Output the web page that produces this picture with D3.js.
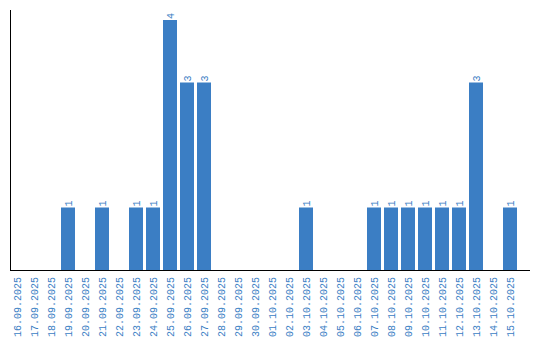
<!DOCTYPE html>
<html>
<head>
<meta charset="utf-8">
<script src="https://cdn.jsdelivr.net/npm/d3@7"></script>
<style>
  body { margin: 0; background: #fff; }
  text { font-family: "Liberation Mono", "Courier New", monospace; font-size: 10px; fill: #3b7ec4; }
</style>
</head>
<body>
<script>
"use strict";

var dates = ["16.09.2025", "17.09.2025", "18.09.2025", "19.09.2025", "20.09.2025", "21.09.2025",
  "22.09.2025", "23.09.2025", "24.09.2025", "25.09.2025", "26.09.2025", "27.09.2025",
  "28.09.2025", "29.09.2025", "30.09.2025", "01.10.2025", "02.10.2025", "03.10.2025",
  "04.10.2025", "05.10.2025", "06.10.2025", "07.10.2025", "08.10.2025", "09.10.2025",
  "10.10.2025", "11.10.2025", "12.10.2025", "13.10.2025", "14.10.2025", "15.10.2025"];
var counts = [0, 0, 0, 1, 0, 1, 0, 1, 1, 4, 3, 3, 0, 0, 0, 0, 0, 1, 0, 0, 0, 1, 1, 1, 1, 1, 1, 3, 0, 1];

var width = 540;
var height = 340;
var padLeft = 10;
var padTop = 10;
var axisY = 270;
var axisRight = 530;

var svg = d3.select("body").append("svg").attr("width", width).attr("height", height);

var x = d3.scaleBand().domain(dates).range([padLeft, 517]).paddingInner(3 / 17).paddingOuter(0);
var y = d3.scaleLinear().domain([0, 4]).range([axisY, 20]);

var rows = dates.map(function (d, i) { return { date: d, value: counts[i] }; });
var filled = rows.filter(function (r) { return r.value > 0; });

// bars
svg.selectAll("rect.bar").data(filled).enter().append("rect")
  .attr("class", "bar")
  .attr("x", function (d) { return x(d.date); })
  .attr("y", function (d) { return y(d.value); })
  .attr("width", x.bandwidth())
  .attr("height", function (d) { return y(0) - y(d.value); })
  .attr("fill", "#3b7ec4");

// value labels
svg.selectAll("text.val").data(filled).enter().append("text")
  .attr("class", "val")
  .attr("transform", function (d) {
    return "translate(" + (x(d.date) + x.bandwidth() / 2) + "," + (y(d.value) - 1) + ") rotate(-90)";
  })
  .attr("dy", "0.35em")
  .attr("text-anchor", "start")
  .text(function (d) { return d.value; });

// date labels
svg.selectAll("text.tick").data(dates).enter().append("text")
  .attr("class", "tick")
  .attr("transform", function (d) {
    return "translate(" + (x(d) + x.bandwidth() / 2) + "," + (axisY + 7) + ") rotate(-90)";
  })
  .attr("dy", "0.35em")
  .attr("text-anchor", "end")
  .text(function (d) { return d; });

// axis lines
svg.append("line").attr("x1", padLeft + 0.5).attr("x2", padLeft + 0.5).attr("y1", padTop).attr("y2", axisY)
  .attr("stroke", "#000").attr("stroke-width", 1);
svg.append("line").attr("x1", padLeft).attr("x2", axisRight).attr("y1", axisY + 0.5).attr("y2", axisY + 0.5)
  .attr("stroke", "#000").attr("stroke-width", 1);
</script>
</body>
</html>
